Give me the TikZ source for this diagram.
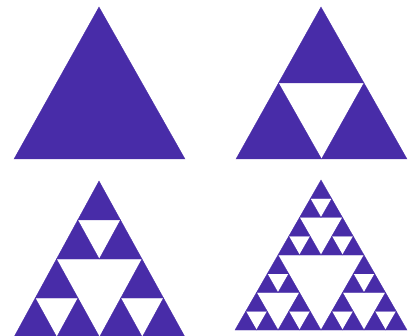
\documentclass[tikz,border=0pt]{standalone}
\definecolor{sierp}{RGB}{72,44,168}
\tikzset{sfill/.style={fill=sierp,draw=sierp,line width=0.3pt,line join=miter}}
\newcommand\sierpdraw[7]{%
  \ifnum#1=0
    \fill[sfill] (#2pt,#3pt) -- (#4pt,#5pt) -- (#6pt,#7pt) -- cycle;
  \else
    \begingroup
    \pgfmathsetmacro\sabx{(#2+#4)/2}\pgfmathsetmacro\saby{(#3+#5)/2}%
    \pgfmathsetmacro\sbcx{(#4+#6)/2}\pgfmathsetmacro\sbcy{(#5+#7)/2}%
    \pgfmathsetmacro\sacx{(#2+#6)/2}\pgfmathsetmacro\sacy{(#3+#7)/2}%
    \edef\snext{%
      \noexpand\sierpdraw{\the\numexpr#1-1\relax}{#2}{#3}{\sabx}{\saby}{\sacx}{\sacy}%
      \noexpand\sierpdraw{\the\numexpr#1-1\relax}{\sabx}{\saby}{#4}{#5}{\sbcx}{\sbcy}%
      \noexpand\sierpdraw{\the\numexpr#1-1\relax}{\sacx}{\sacy}{\sbcx}{\sbcy}{#6}{#7}}%
    \snext
    \endgroup
  \fi}
\begin{document}
\begin{tikzpicture}[x=1pt,y=1pt]
\useasboundingbox (0,0) rectangle (414,-336);
\fill[white] (0,0) rectangle (414,-336);
\sierpdraw{0}{14}{-159}{99}{-7}{185}{-159}
\sierpdraw{1}{236}{-159}{321}{-7}{407}{-159}
\sierpdraw{2}{14}{-337}{99}{-181}{185}{-337}
\sierpdraw{3}{235}{-330}{321}{-180}{407}{-330}
\end{tikzpicture}
\end{document}
